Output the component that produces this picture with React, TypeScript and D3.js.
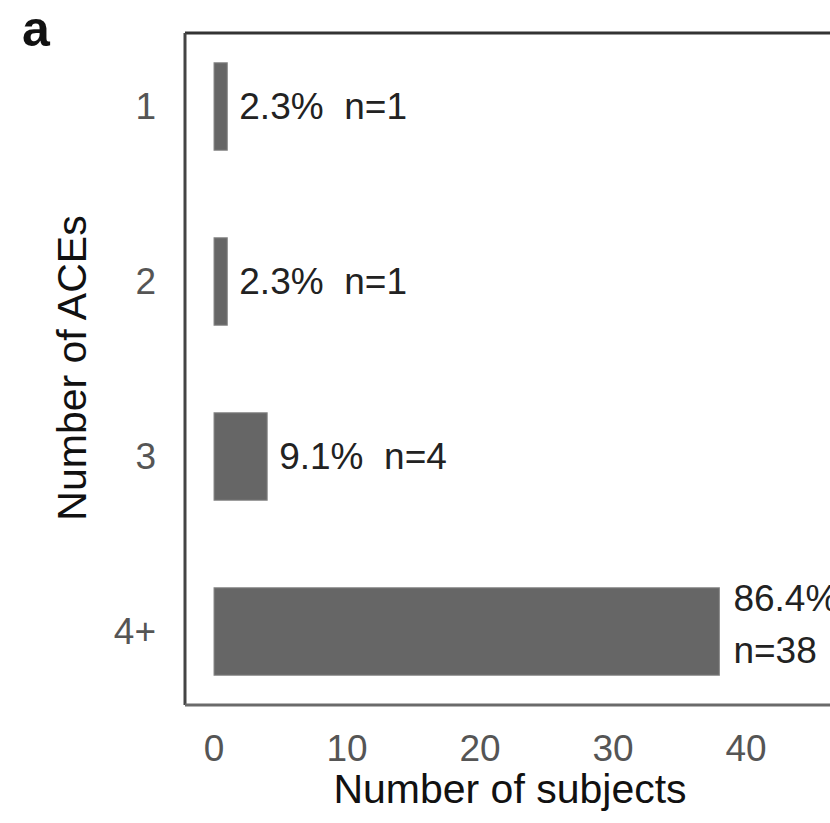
import React from "react";
import * as d3 from "d3";

const categories = ["1", "2", "3", "4+"];
const counts = [1, 1, 4, 38];
const percents = ["2.3%", "2.3%", "9.1%", "86.4%"];
const xTicks = [0, 10, 20, 30, 40];

const W = 830;
const H = 823;
const panel = { left: 185, top: 33, right: 845, bottom: 705 };
const FONT = "Liberation Sans, Arial, Helvetica, sans-serif";

export default function App() {
  const x = d3.scaleLinear().domain([0, 40]).range([214, 746]);
  const y = d3
    .scaleBand<string>()
    .domain(categories)
    .range([panel.top, panel.bottom])
    .paddingInner(0.5)
    .paddingOuter(0.17);

  return (
    <svg
      width={W}
      height={H}
      style={{ position: "absolute", left: 0, top: 0, background: "#fff" }}
      fontFamily={FONT}
    >
      <text x={22} y={46} fontSize={50} fontWeight="bold" fill="#111">
        a
      </text>
      {/* panel border */}
      <line x1={panel.left} x2={panel.right} y1={panel.top} y2={panel.top} stroke="#333" strokeWidth={3} />
      <line x1={panel.left} x2={panel.left} y1={panel.top} y2={panel.bottom} stroke="#444" strokeWidth={3} />
      <line x1={panel.left} x2={panel.right} y1={panel.bottom} y2={panel.bottom} stroke="#6a6a6a" strokeWidth={3} />

      {categories.map((c, i) => {
        const yb = y(c)!;
        const bw = y.bandwidth();
        const x0 = x(0);
        const x1 = x(counts[i]);
        const cy = yb + bw / 2;
        return (
          <g key={c}>
            <rect x={x0} y={yb} width={x1 - x0} height={bw} fill="#666" stroke="#8a8a8a" strokeWidth={1} />
            {counts[i] < 20 ? (
              <text x={x1 + 12} y={cy} dominantBaseline="central" fontSize={37} fill="#222">
                {percents[i]}{"\u00a0\u00a0"}n={counts[i]}
              </text>
            ) : (
              <text x={x1 + 14} fontSize={37} fill="#222">
                <tspan x={x1 + 14} y={cy - 21}>{percents[i]}</tspan>
                <tspan x={x1 + 14} y={cy + 31}>n={counts[i]}</tspan>
              </text>
            )}
            <text x={156} y={cy} textAnchor="end" dominantBaseline="central" fontSize={37} fill="#555">
              {c}
            </text>
          </g>
        );
      })}

      {xTicks.map((t) => (
        <text key={t} x={x(t)} y={761} textAnchor="middle" fontSize={37} fill="#555">
          {t}
        </text>
      ))}

      <text x={(x(0) + x(40)) / 2 + 30} y={803} textAnchor="middle" fontSize={41} fill="#111">
        Number of subjects
      </text>
      <text
        transform={`translate(86, 368) rotate(-90)`}
        textAnchor="middle"
        fontSize={41}
        fill="#111"
      >
        Number of ACEs
      </text>
    </svg>
  );
}
